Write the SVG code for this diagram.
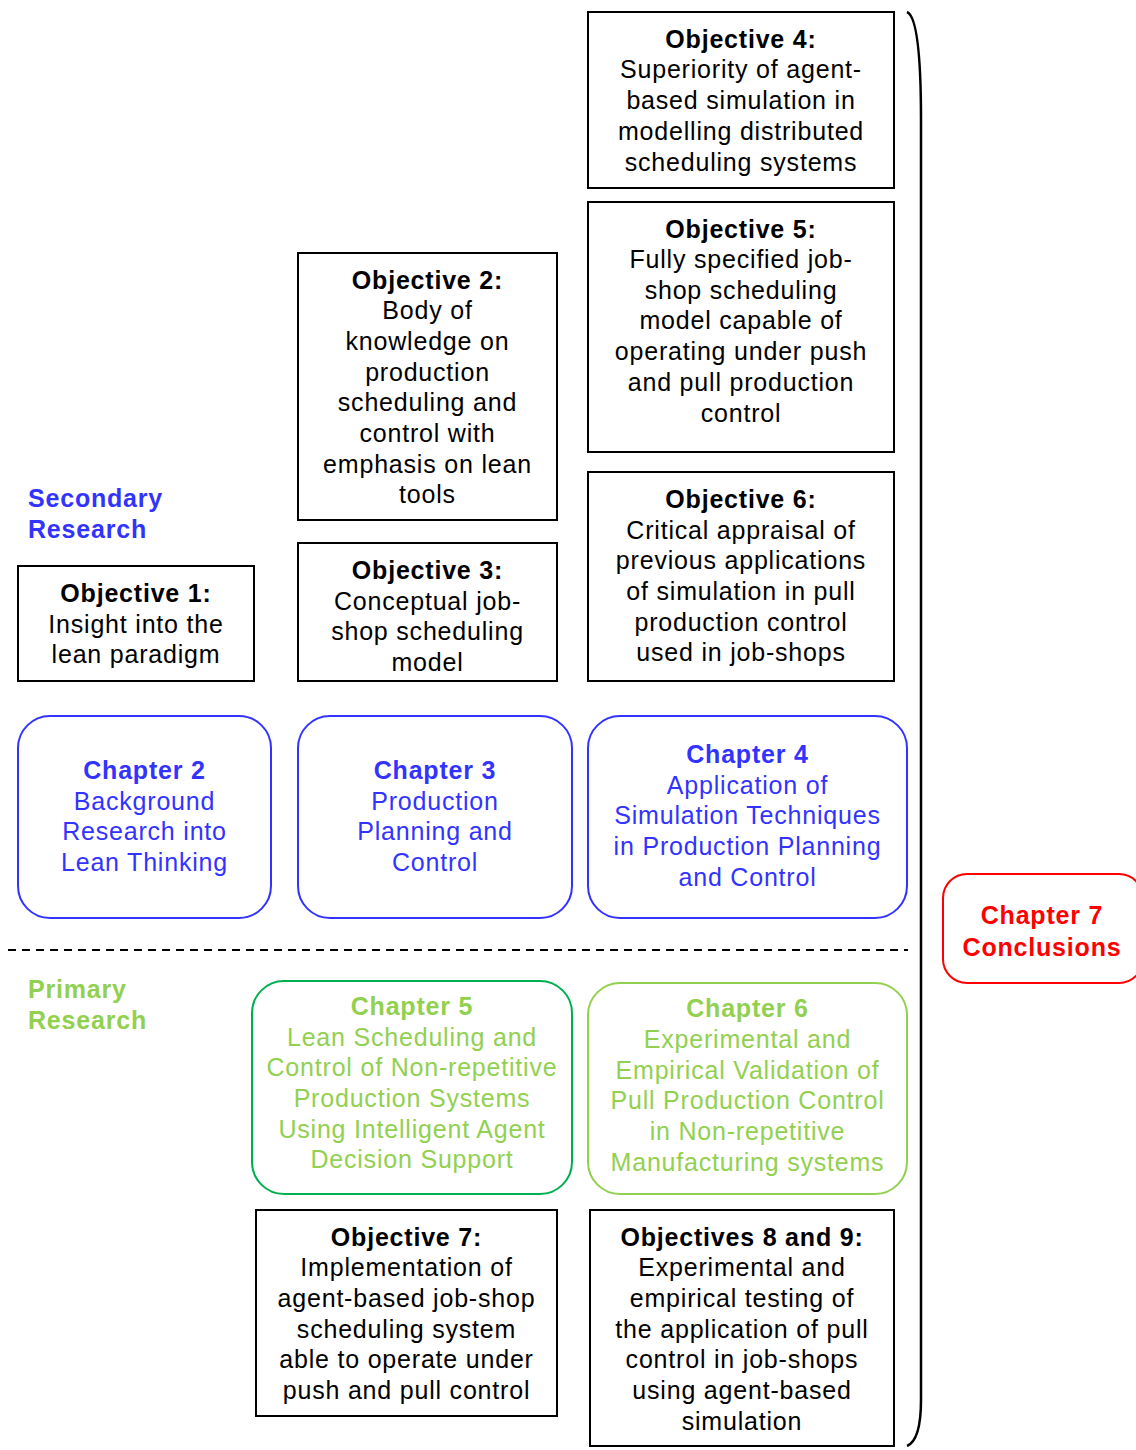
<svg xmlns="http://www.w3.org/2000/svg" width="1136" height="1450" viewBox="0 0 1136 1450">
<style>
text{font-family:"Liberation Sans",Arial,sans-serif;font-size:25px;letter-spacing:0.8px;text-anchor:middle}
.b{font-weight:bold}
.obj{fill:#fff;stroke:#000;stroke-width:2}
.ot{fill:#000}
.sec{fill:none;stroke:#3333ff;stroke-width:2}
.st{fill:#3333ff}
.pri6{fill:none;stroke:#92d050;stroke-width:2}
.pri5{fill:none;stroke:#00b050;stroke-width:2}
.pt{fill:#92d050}
.lbl{text-anchor:start;font-weight:bold}
</style>
<rect width="1136" height="1450" fill="#fff"/>

<!-- section labels -->
<g id="secondary-label"><text class="lbl st" x="28" y="507">Secondary</text><text class="lbl st" x="28" y="538">Research</text></g>
<g id="primary-label"><text class="lbl pt" x="28" y="998">Primary</text><text class="lbl pt" x="28" y="1029">Research</text></g>

<!-- objectives -->
<g id="obj4"><rect class="obj" x="588" y="12" width="306" height="176"/>
<text class="ot"><tspan class="b" x="741" y="48">Objective 4:</tspan><tspan x="741" y="78">Superiority of agent-</tspan><tspan x="741" y="109">based simulation in</tspan><tspan x="741" y="140">modelling distributed</tspan><tspan x="741" y="171">scheduling systems</tspan></text></g>

<g id="obj5"><rect class="obj" x="588" y="202" width="306" height="250"/>
<text class="ot"><tspan class="b" x="741" y="238">Objective 5:</tspan><tspan x="741" y="268">Fully specified job-</tspan><tspan x="741" y="299">shop scheduling</tspan><tspan x="741" y="329">model capable of</tspan><tspan x="741" y="360">operating under push</tspan><tspan x="741" y="391">and pull production</tspan><tspan x="741" y="422">control</tspan></text></g>

<g id="obj6"><rect class="obj" x="588" y="472" width="306" height="209"/>
<text class="ot"><tspan class="b" x="741" y="508">Objective 6:</tspan><tspan x="741" y="539">Critical appraisal of</tspan><tspan x="741" y="569">previous applications</tspan><tspan x="741" y="600">of simulation in pull</tspan><tspan x="741" y="631">production control</tspan><tspan x="741" y="661">used in job-shops</tspan></text></g>

<g id="obj2"><rect class="obj" x="298" y="253" width="259" height="267"/>
<text class="ot"><tspan class="b" x="427.5" y="289">Objective 2:</tspan><tspan x="427.5" y="319">Body of</tspan><tspan x="427.5" y="350">knowledge on</tspan><tspan x="427.5" y="381">production</tspan><tspan x="427.5" y="411">scheduling and</tspan><tspan x="427.5" y="442">control with</tspan><tspan x="427.5" y="473">emphasis on lean</tspan><tspan x="427.5" y="503">tools</tspan></text></g>

<g id="obj3"><rect class="obj" x="298" y="543" width="259" height="138"/>
<text class="ot"><tspan class="b" x="427.5" y="579">Objective 3:</tspan><tspan x="427.5" y="610">Conceptual job-</tspan><tspan x="427.5" y="640">shop scheduling</tspan><tspan x="427.5" y="671">model</tspan></text></g>

<g id="obj1"><rect class="obj" x="18" y="566" width="236" height="115"/>
<text class="ot"><tspan class="b" x="136" y="602">Objective 1:</tspan><tspan x="136" y="633">Insight into the</tspan><tspan x="136" y="663">lean paradigm</tspan></text></g>

<!-- secondary research chapters -->
<g id="ch2"><rect class="sec" x="18" y="716" width="253" height="202" rx="32"/>
<text class="st"><tspan class="b" x="144.5" y="779">Chapter 2</tspan><tspan x="144.5" y="810">Background</tspan><tspan x="144.5" y="840">Research into</tspan><tspan x="144.5" y="871">Lean Thinking</tspan></text></g>

<g id="ch3"><rect class="sec" x="298" y="716" width="274" height="202" rx="32"/>
<text class="st"><tspan class="b" x="435" y="779">Chapter 3</tspan><tspan x="435" y="810">Production</tspan><tspan x="435" y="840">Planning and</tspan><tspan x="435" y="871">Control</tspan></text></g>

<g id="ch4"><rect class="sec" x="588" y="716" width="319" height="202" rx="32"/>
<text class="st"><tspan class="b" x="747.5" y="763">Chapter 4</tspan><tspan x="747.5" y="794">Application of</tspan><tspan x="747.5" y="824">Simulation Techniques</tspan><tspan x="747.5" y="855">in Production Planning</tspan><tspan x="747.5" y="886">and Control</tspan></text></g>

<!-- conclusions -->
<g id="ch7"><rect x="943" y="874" width="200" height="109" rx="24" fill="none" stroke="#ff0000" stroke-width="2"/>
<text fill="#ff0000" class="b"><tspan x="1042" y="924">Chapter 7</tspan><tspan x="1042" y="956">Conclusions</tspan></text></g>

<!-- primary research chapters -->
<g id="ch5"><rect class="pri5" x="252" y="981" width="320" height="213" rx="32"/>
<text class="pt"><tspan class="b" x="412" y="1015">Chapter 5</tspan><tspan x="412" y="1046">Lean Scheduling and</tspan><tspan x="412" y="1076">Control of Non-repetitive</tspan><tspan x="412" y="1107">Production Systems</tspan><tspan x="412" y="1138">Using Intelligent Agent</tspan><tspan x="412" y="1168">Decision Support</tspan></text></g>

<g id="ch6"><rect class="pri6" x="588" y="983" width="319" height="211" rx="32"/>
<text class="pt"><tspan class="b" x="747.5" y="1017">Chapter 6</tspan><tspan x="747.5" y="1048">Experimental and</tspan><tspan x="747.5" y="1079">Empirical Validation of</tspan><tspan x="747.5" y="1109">Pull Production Control</tspan><tspan x="747.5" y="1140">in Non-repetitive</tspan><tspan x="747.5" y="1171">Manufacturing systems</tspan></text></g>

<g id="obj7"><rect class="obj" x="256" y="1210" width="301" height="206"/>
<text class="ot"><tspan class="b" x="406.5" y="1246">Objective 7:</tspan><tspan x="406.5" y="1276">Implementation of</tspan><tspan x="406.5" y="1307">agent-based job-shop</tspan><tspan x="406.5" y="1338">scheduling system</tspan><tspan x="406.5" y="1368">able to operate under</tspan><tspan x="406.5" y="1399">push and pull control</tspan></text></g>

<g id="obj89"><rect class="obj" x="590" y="1210" width="304" height="236"/>
<text class="ot"><tspan class="b" x="742" y="1246">Objectives 8 and 9:</tspan><tspan x="742" y="1276">Experimental and</tspan><tspan x="742" y="1307">empirical testing of</tspan><tspan x="742" y="1338">the application of pull</tspan><tspan x="742" y="1368">control in job-shops</tspan><tspan x="742" y="1399">using agent-based</tspan><tspan x="742" y="1430">simulation</tspan></text></g>

<!-- separators and bracket -->
<g id="connectors" fill="none" stroke="#000">
<line x1="8" y1="950" x2="908" y2="950" stroke-width="2" stroke-dasharray="8,6"/>
<path d="M907,12 Q921,18 921,120 L921,1400 Q921,1440 907,1446" stroke-width="2.5"/>
</g>
</svg>
